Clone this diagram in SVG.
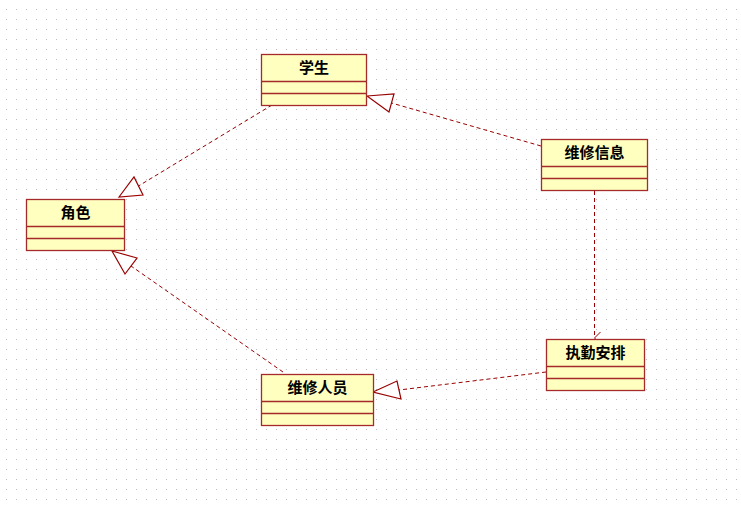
<svg xmlns="http://www.w3.org/2000/svg" width="741" height="506" viewBox="0 0 741 506">
<defs>
<pattern id="grid" x="6" y="9" width="10" height="10" patternUnits="userSpaceOnUse">
<rect x="0" y="0" width="1" height="1" fill="#bdbdbd"/>
</pattern>
<marker id="open" markerWidth="14" markerHeight="14" refX="7" refY="7" orient="auto" markerUnits="userSpaceOnUse">
<path d="M1,1 L7,7 L13,1" fill="none" stroke="#990000" stroke-width="1"/>
</marker>
</defs>
<style>
.box{fill:#ffffc0;stroke:#a52a2a;stroke-width:1.3}
.sep{stroke:#a52a2a;stroke-width:1.3}
.t{font-family:"Noto Sans CJK SC","Noto Sans",sans-serif;font-size:15px;font-weight:bold;fill:#000;text-anchor:middle}
.dash{fill:none;stroke:#990000;stroke-width:1;stroke-dasharray:4,3}
.tri{fill:#fff;stroke:#990000;stroke-width:1.2}
</style>
<rect width="741" height="506" fill="#fff"/>
<rect width="741" height="506" fill="url(#grid)"/>
<g id="connectors">
<line class="dash" x1="272" y1="105" x2="138.5" y2="186"/>
<polygon class="tri" points="119,197 134,177 143,195"/>
<line class="dash" x1="541" y1="146" x2="391.5" y2="103"/>
<polygon class="tri" points="367,96 394,94 389,112"/>
<line class="dash" x1="283" y1="372" x2="131" y2="266"/>
<polygon class="tri" points="112,251 137,258 125,274"/>
<line class="dash" x1="546" y1="372" x2="399" y2="390"/>
<polygon class="tri" points="373,392 397,381 401,399"/>
<line class="dash" x1="594.5" y1="191" x2="594.5" y2="338" marker-end="url(#open)"/>
</g>
<g id="node-xuesheng">
<rect class="box" x="261.5" y="54.5" width="105" height="51"/>
<line class="sep" x1="261.5" y1="81.5" x2="366.5" y2="81.5"/>
<line class="sep" x1="261.5" y1="93.5" x2="366.5" y2="93.5"/>
<text class="t" x="314" y="73">学生</text>
</g>
<g id="node-juese">
<rect class="box" x="26.5" y="199.5" width="98" height="51"/>
<line class="sep" x1="26.5" y1="226.5" x2="124.5" y2="226.5"/>
<line class="sep" x1="26.5" y1="238.5" x2="124.5" y2="238.5"/>
<text class="t" x="75.5" y="218">角色</text>
</g>
<g id="node-weixiuxinxi">
<rect class="box" x="541.5" y="139.5" width="106" height="51"/>
<line class="sep" x1="541.5" y1="166.5" x2="647.5" y2="166.5"/>
<line class="sep" x1="541.5" y1="178.5" x2="647.5" y2="178.5"/>
<text class="t" x="594.5" y="158">维修信息</text>
</g>
<g id="node-zhiqinanpai">
<rect class="box" x="546.5" y="339.5" width="98" height="51"/>
<line class="sep" x1="546.5" y1="366.5" x2="644.5" y2="366.5"/>
<line class="sep" x1="546.5" y1="378.5" x2="644.5" y2="378.5"/>
<text class="t" x="595.5" y="358">执勤安排</text>
</g>
<g id="node-weixiurenyuan">
<rect class="box" x="261.5" y="374.5" width="112" height="51"/>
<line class="sep" x1="261.5" y1="401.5" x2="373.5" y2="401.5"/>
<line class="sep" x1="261.5" y1="413.5" x2="373.5" y2="413.5"/>
<text class="t" x="317.5" y="393">维修人员</text>
</g>
</svg>
